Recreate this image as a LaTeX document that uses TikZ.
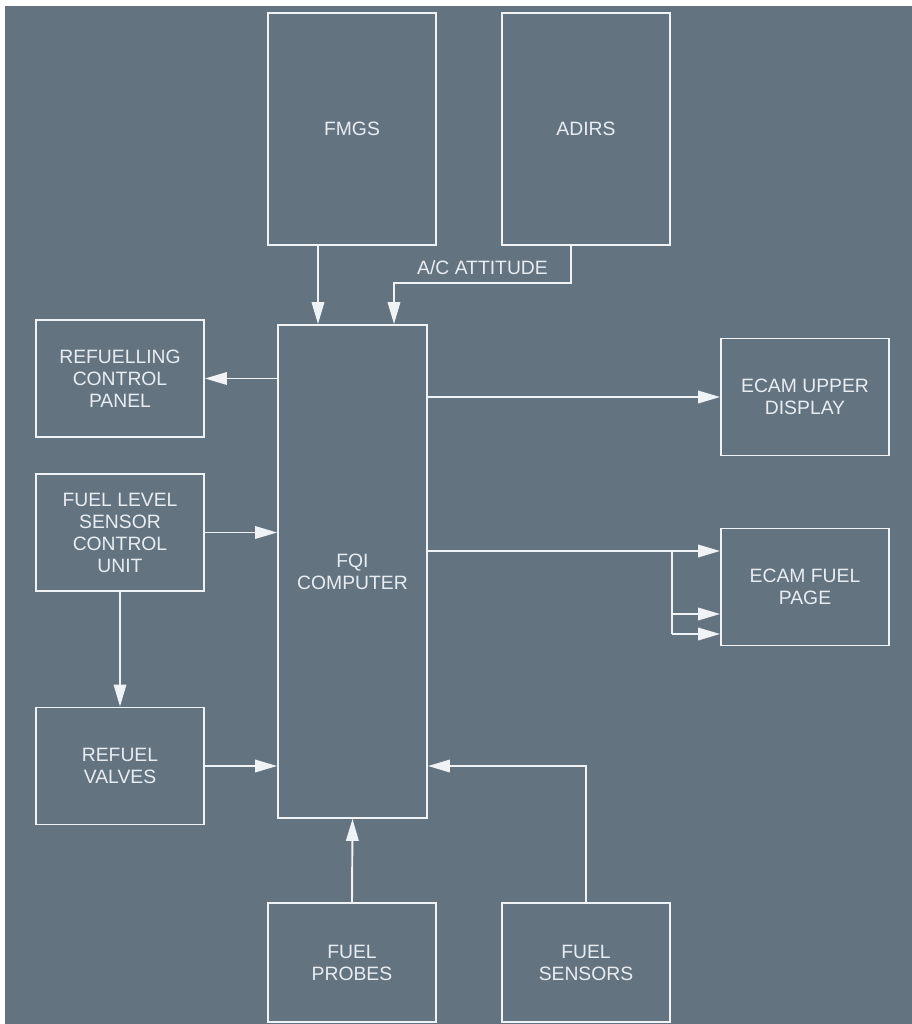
\documentclass[tikz,border=0pt]{standalone}
\usepackage{fontspec}
\setmainfont{Liberation Sans}
\usepackage{tikz}
\usetikzlibrary{arrows.meta,positioning,calc}
\definecolor{slatebg}{RGB}{100,115,128}
\definecolor{paleline}{RGB}{240,243,246}
\definecolor{paletext}{RGB}{232,237,242}
\tikzset{
  base/.style={font=\fontsize{11}{12.5}\selectfont, align=center, inner sep=2pt, text=paletext},
  box/.style={base, rectangle, draw=paleline, line width=1.1pt, minimum width=3.36cm, minimum height=2.34cm},
  tallbox/.style={box, minimum height=4.64cm},
  fqibox/.style={box, minimum width=2.98cm, minimum height=9.86cm},
  ln/.style={line width=1.1pt, draw=paleline},
  arr/.style={ln, -{Triangle[length=4.4mm,width=2.5mm]}},
  lbl/.style={base, inner sep=1pt},
}
\begin{document}
\begin{tikzpicture}[x=0.02cm,y=-0.02cm]
  \useasboundingbox (0,0) rectangle (912,1024);
  \fill[slatebg] (5,6) rectangle (912,1024);
  % upper sources
  \node[tallbox] (fmgs) at (352,129) {FMGS};
  \node[tallbox] (adirs) at (586,129) {ADIRS};
  % computer
  \node[fqibox] (fqi) at (352.5,571.5) {FQI\\COMPUTER};
  % left column
  \node[box] (rcp) at (120,378.5) {REFUELLING\\CONTROL\\PANEL};
  \node[box] (flscu) at (120,532.5) {FUEL LEVEL\\SENSOR\\CONTROL\\UNIT};
  \node[box] (valves) at (120,766) {REFUEL\\VALVES};
  % right column
  \node[box] (ecamup) at (805,397) {ECAM UPPER\\DISPLAY};
  \node[box] (ecamfuel) at (805,587) {ECAM FUEL\\PAGE};
  % lower sources
  \node[box, minimum height=2.38cm] (probes) at (352,962.5) {FUEL\\PROBES};
  \node[box, minimum height=2.38cm] (sensors) at (586,962.5) {FUEL\\SENSORS};
  % connectors
  \draw[arr] (fmgs.south -| 318,0) -- (fqi.north -| 318,0);
  \coordinate (attA) at (571,283);
  \coordinate (attB) at (394,283);
  \draw[arr] (adirs.south -| attA) -- (attA) -- node[lbl, above=3pt] (atttxt) {A/C ATTITUDE} (attB) -- (fqi.north -| attB);
  \draw[arr] (fqi.west |- rcp.east) -- (rcp.east);
  \draw[arr] (flscu.east) -- (fqi.west |- flscu.east);
  \draw[arr] (flscu.south) -- (valves.north);
  \draw[arr] (valves.east) -- (fqi.west |- valves.east);
  \draw[arr] (fqi.east |- ecamup.west) -- (ecamup.west);
  \draw[arr] (fqi.east |- 0,551) -- (ecamfuel.west |- 0,551);
  \coordinate (split) at (672,551);
  \draw[ln] (split) -- (split |- 0,634);
  \foreach \y in {614,634}{\draw[arr] (split |- 0,\y) -- (ecamfuel.west |- 0,\y);}
  \draw[arr] (probes.north) -- (fqi.south);
  \draw[arr] (sensors.north) |- (fqi.east |- valves.east);
\end{tikzpicture}
\end{document}
